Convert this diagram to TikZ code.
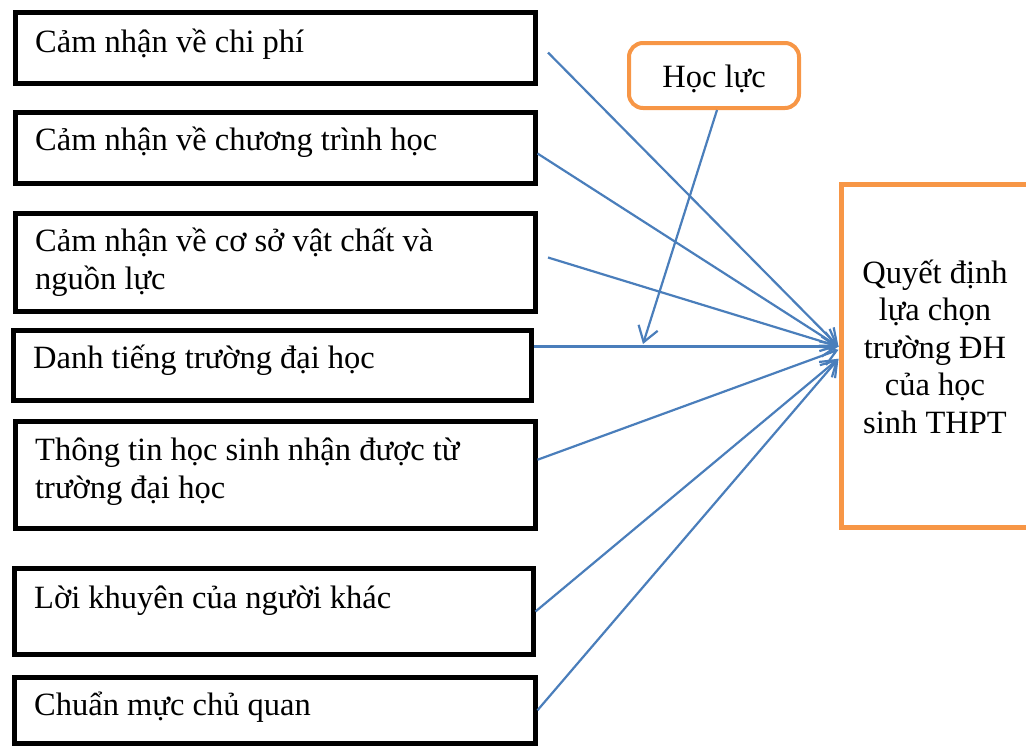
\documentclass[tikz,border=0pt]{standalone}
\usepackage{fontspec}
\setmainfont{Liberation Serif}
\usetikzlibrary{arrows.meta}
\definecolor{linkblue}{RGB}{74,126,187}
\definecolor{accent}{RGB}{247,150,70}

\begin{document}
\begin{tikzpicture}[x=1pt,y=-1pt,
  factor/.style={draw=black, line width=5pt, inner sep=0pt, anchor=north west},
  txt/.style={inner sep=0pt, anchor=base west, align=left, font=\fontsize{32.5}{37.5}\selectfont},
  link/.style={draw=linkblue, line width=2.2pt, -{Straight Barb[length=15pt,width=20pt]}},
]
\path[use as bounding box] (0,0) rectangle (1026,745);
\clip (0,0) rectangle (1026,745);

% factor boxes
\node[factor, minimum width=519.5pt, minimum height=70.5pt] (b1) at (13,10) {};
\node[factor, minimum width=519.5pt, minimum height=71pt]   (b2) at (13,110) {};
\node[factor, minimum width=519.5pt, minimum height=98pt]   (b3) at (13,211) {};
\node[factor, minimum width=518.5pt, minimum height=70pt]   (b4) at (10.5,328) {};
\node[factor, minimum width=520pt,   minimum height=106.5pt](b5) at (12.5,419) {};
\node[factor, minimum width=518.5pt, minimum height=86pt]   (b6) at (12,566) {};
\node[factor, minimum width=520.5pt, minimum height=66.5pt] (b7) at (12,674.5) {};

% factor texts (multi-line nodes are placed by their last baseline)
\node[txt] (t1) at (35,52)  {Cảm nhận về chi phí};
\node[txt] (t2) at (35,150) {Cảm nhận về chương trình học};
\node[txt] (t3) at (35,289) {Cảm nhận về cơ sở vật chất và\\nguồn lực};
\node[txt] (t4) at (33,368) {Danh tiếng trường đại học};
\node[txt] (t5) at (35,498) {Thông tin học sinh nhận được từ\\trường đại học};
\node[txt] (t6) at (34,608) {Lời khuyên của người khác};
\node[txt] (t7) at (34,715) {Chuẩn mực chủ quan};

% moderator
\node[draw=accent, line width=4pt, rounded corners=14pt, inner sep=0pt,
      minimum width=170pt, minimum height=65pt,
      font=\fontsize{32.5}{37.5}\selectfont, text height=26pt, text depth=3pt]
      (hl) at (714,75.5) {Học lực};

% outcome
\node[draw=accent, line width=5pt, inner sep=0pt, anchor=north west,
      minimum width=194pt, minimum height=342.5pt] (rb) at (838.5,182) {};
\node[txt, anchor=base, align=center] (rt) at (935,433)
      {Quyết định\\lựa chọn\\trường ĐH\\của học\\sinh THPT};

% arrow end points on the outcome box
\coordinate (e1) at ([yshift=9.25pt]rb.west);
\coordinate (e2) at ([yshift=6pt]rb.west);
\coordinate (e3) at ([yshift=-3pt]rb.west);
\coordinate (hit) at (643,344);

% links
\draw[link] ([shift={(10.5pt,-4.75pt)}]b1.east) -- (e1);
\draw[link] ([yshift=-5.5pt]b2.east) -- (e1);
\draw[link] ([shift={(10.5pt,5pt)}]b3.east) -- (e1);
\draw[link] ([yshift=19pt]b4.east) -- (e1);
\draw[link] ([yshift=15pt]b5.east) -- (e2);
\draw[link] (b6.east) -- (e3);
\draw[link] (b7.east) -- (e3);
\draw[link] ([xshift=3pt]hl.south) -- (hit);
\end{tikzpicture}
\end{document}
